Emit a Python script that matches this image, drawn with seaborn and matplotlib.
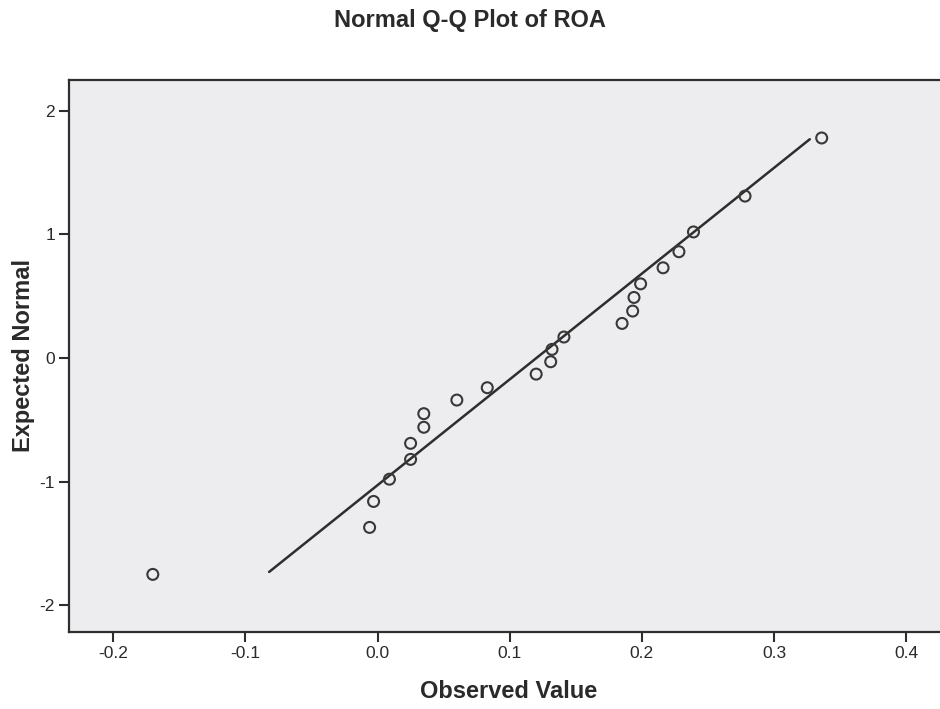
import matplotlib
matplotlib.use("Agg")
import matplotlib.pyplot as plt
import seaborn as sns
import pandas as pd

# ---- data ----
observed = [-0.170, -0.006, -0.003, 0.009, 0.025, 0.025, 0.035, 0.035, 0.060,
            0.083, 0.120, 0.131, 0.132, 0.141, 0.185, 0.193, 0.194, 0.199,
            0.216, 0.228, 0.239, 0.278, 0.336]
expected = [-1.75, -1.37, -1.16, -0.98, -0.82, -0.69, -0.56, -0.45, -0.34,
            -0.24, -0.13, -0.03, 0.07, 0.17, 0.28, 0.38, 0.49, 0.60,
            0.73, 0.86, 1.02, 1.31, 1.78]
line_x = [-0.082, 0.327]
line_y = [-1.73, 1.77]
x_ticks = [-0.2, -0.1, 0.0, 0.1, 0.2, 0.3, 0.4]
x_ticklabels = ["-0.2", "-0.1", "0.0", "0.1", "0.2", "0.3", "0.4"]
y_ticks = [-2, -1, 0, 1, 2]
y_ticklabels = ["-2", "-1", "0", "1", "2"]

title = "Normal Q-Q Plot of ROA"
xlabel = "Observed Value"
ylabel = "Expected Normal"

sns.set_theme(style="white")
plt.rcParams['font.family'] = ['Liberation Sans', 'DejaVu Sans']

pts = pd.DataFrame({"obs": observed, "exp": expected})
ref = pd.DataFrame({"x": line_x, "y": line_y})

W, H = 940, 709
fig = plt.figure(figsize=(W / 100, H / 100), dpi=100)
fig.patch.set_facecolor("white")
left, right, top, bottom = 69, 949, 80, 632
ax = fig.add_axes([left / W, 1 - bottom / H, (right - left) / W, (bottom - top) / H])
ax.set_facecolor("#ededef")

dark = "#2e2e2e"
sns.lineplot(data=ref, x="x", y="y", ax=ax, color=dark, linewidth=1.8,
             estimator=None, sort=False, zorder=2)
sns.scatterplot(data=pts, x="obs", y="exp", ax=ax, marker="o", s=62,
                facecolor="none", edgecolor="#383838", linewidth=1.5, zorder=3)

ax.set_xlim(-0.2334, 0.4323)
ax.set_ylim(-2.216, 2.249)
ax.set_xticks(x_ticks)
ax.set_xticklabels(x_ticklabels)
ax.set_yticks(y_ticks)
ax.set_yticklabels(y_ticklabels)

for s in ["left", "bottom", "top"]:
    ax.spines[s].set_color(dark)
    ax.spines[s].set_linewidth(1.6)
ax.spines["right"].set_visible(False)

ax.tick_params(axis="both", which="major", direction="out", length=7, width=1.5,
               color=dark, labelsize=12.5, labelcolor="#2a2a2a", pad=3,
               bottom=True, left=True)

ax.set_xlabel(xlabel, fontsize=17, fontweight="bold", color="#2a2a2a", labelpad=14)
ax.set_ylabel(ylabel, fontsize=17, fontweight="bold", color="#2a2a2a", labelpad=3)

fig.text(470 / W, 1 - 20 / H, title, ha="center", va="center",
         fontsize=17, fontweight="bold", color="#2a2a2a")

fig.savefig("out.png", dpi=100, facecolor="white")
